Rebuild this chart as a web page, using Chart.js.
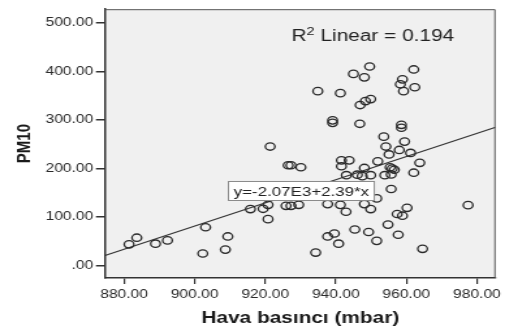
<!DOCTYPE html>
<html>
<head>
<meta charset="utf-8">
<script src="https://cdn.jsdelivr.net/npm/chart.js@4.4.0/dist/chart.umd.min.js"></script>
<style>
  html, body { margin: 0; padding: 0; background: #fff; }
</style>
</head>
<body>
<!-- drawn narrow, shown wide: the whole plot is stretched sideways -->
<canvas id="chart" width="388" height="329" style="display:block;width:505px;height:329px"></canvas>
<script>
// Air pressure (mbar) against PM10
const pressure = [
    881.4, 883.6, 888.9, 892.3, 902.3, 903.1, 908.7, 909.4, 915.8, 919.4,
    920.8, 920.8, 921.4, 925.9, 927.3, 929.5, 926.5, 927.3, 930.1, 934.3,
    934.9, 937.7, 937.7, 939.6, 940.8, 939.1, 939.1, 941.3, 941.3, 941.6,
    943.8, 941.6, 943.0, 942.9, 945.0, 945.4, 946.1, 947.5, 946.8, 946.9,
    948.1, 948.1, 948.1, 948.4, 949.6, 949.9, 949.9, 949.9, 949.3, 951.6,
    951.6, 951.9, 953.6, 953.9, 954.2, 954.8, 955.1, 955.4, 955.7, 955.7,
    956.0, 956.6, 957.4, 957.7, 958.0, 958.3, 958.6, 958.6, 958.9, 958.9,
    959.2, 959.5, 960.2, 961.2, 962.1, 962.1, 962.4, 963.8, 964.6, 977.5
];
const pm10 = [
    43.4, 57.1, 44.8, 51.6, 24.5, 78.7, 32.6, 59.7, 116.2, 116.8,
    124.9, 95.4, 245.2, 122.9, 122.9, 125.0, 206.6, 206.6, 202.5, 26.5,
    359.4, 126.4, 59.7, 65.8, 44.8, 299.2, 294.1, 355.3, 124.9, 216.7,
    216.7, 204.5, 186.1, 110.7, 395.0, 74.0, 187.1, 184.1, 292.1, 330.8,
    387.9, 201.0, 126.4, 338.9, 410.3, 343.0, 186.1, 116.2, 68.9, 138.2,
    50.6, 214.6, 265.6, 186.1, 245.2, 84.2, 228.9, 202.4, 187.5, 157.6,
    199.8, 197.3, 106.0, 63.2, 238.1, 373.6, 290.0, 283.9, 383.8, 102.5,
    359.4, 255.4, 118.8, 232.0, 191.2, 404.2, 367.5, 211.6, 34.2, 124.3
];

const xTicks = [880, 900, 920, 940, 960, 980];
const xTickLabels = ['880.00', '900.00', '920.00', '940.00', '960.00', '980.00'];
const yTicks = [0, 100, 200, 300, 400, 500];
const yTickLabels = ['.00', '100.00', '200.00', '300.00', '400.00', '500.00'];

// linear fit as printed on the chart
const fitIntercept = -2070;
const fitSlope = 2.39;
const fitLabel = 'y=-2.07E3+2.39*x';
const rSquared = '0.194';

const xTitle = 'Hava basıncı (mbar)';
const yTitle = 'PM10';

const xMin = 874.6, xMax = 985.3;
const yMin = -26, yMax = 528.5;

const FONT = "'Liberation Sans', Arial, sans-serif";

function fit(x) {
    return fitIntercept + fitSlope * x;
}

const decorPlugin = {
    id: 'decor',
    beforeDraw(chart) {
        const { ctx, chartArea: a } = chart;
        ctx.save();
        ctx.fillStyle = '#ffffff';
        ctx.fillRect(0, 0, chart.width, chart.height);
        ctx.fillStyle = '#f0f0f0';
        ctx.fillRect(a.left, a.top, a.right - a.left, a.bottom - a.top);
        ctx.restore();
    },
    afterDraw(chart) {
        const { ctx, chartArea: a, scales } = chart;
        ctx.save();

        // frame on top and right
        ctx.strokeStyle = '#555';
        ctx.lineWidth = 1;
        ctx.beginPath();
        ctx.moveTo(a.left, a.top + 0.5);
        ctx.lineTo(a.right - 0.5, a.top + 0.5);
        ctx.lineTo(a.right - 0.5, a.bottom);
        ctx.stroke();

        // equation box
        const bx = scales.x.getPixelForValue(909.4);
        const by = scales.y.getPixelForValue(153.5);
        ctx.font = '13px ' + FONT;
        const tw = ctx.measureText(fitLabel).width;
        const bw = tw + 9, bh = 20;
        ctx.fillStyle = '#ffffff';
        ctx.fillRect(bx, by - bh / 2, bw, bh);
        ctx.strokeStyle = '#8a8a8a';
        ctx.lineWidth = 1;
        ctx.strokeRect(bx + 0.5, by - bh / 2 + 0.5, bw - 1, bh - 1);
        ctx.fillStyle = '#222';
        ctx.textBaseline = 'middle';
        ctx.textAlign = 'left';
        ctx.fillText(fitLabel, bx + 4.5, by + 1);

        // R squared note
        ctx.textBaseline = 'alphabetic';
        const big = '16px ' + FONT, small = '11px ' + FONT;
        const rest = ' Linear = ' + rSquared;
        ctx.font = big;
        const wR = ctx.measureText('R').width;
        const wRest = ctx.measureText(rest).width;
        ctx.font = small;
        const w2 = ctx.measureText('2').width;
        let x = 286.5 - (wR + w2 + wRest) / 2;
        const base = 41;
        ctx.fillStyle = '#222';
        ctx.font = big;
        ctx.fillText('R', x, base);
        x += wR;
        ctx.font = small;
        ctx.fillText('2', x, base - 6);
        x += w2;
        ctx.font = big;
        ctx.fillText(rest, x, base);

        // axis titles
        ctx.fillStyle = '#1a1a1a';
        ctx.font = 'bold 16px ' + FONT;
        ctx.textAlign = 'center';
        ctx.fillText(xTitle, (a.left + a.right) / 2, 323);

        ctx.font = 'bold 15px ' + FONT;
        ctx.translate(18.5, (a.top + a.bottom) / 2);
        ctx.rotate(-Math.PI / 2);
        ctx.textBaseline = 'middle';
        ctx.fillText(yTitle, 0, 0);

        ctx.restore();
    }
};

const tickFont = { family: FONT, size: 12 };

const ctx = document.getElementById('chart').getContext('2d');
const chart = new Chart(ctx, {
    type: 'scatter',
    data: {
        datasets: [
            {
                data: pressure.map((p, i) => ({ x: p, y: pm10[i] })),
                pointStyle: 'circle',
                pointRadius: 3.7,
                pointHoverRadius: 3.7,
                pointBorderWidth: 1.3,
                borderColor: '#2a2a2a',
                backgroundColor: 'rgba(0,0,0,0)'
            },
            {
                type: 'line',
                data: [{ x: xMin, y: fit(xMin) }, { x: xMax, y: fit(xMax) }],
                borderColor: '#333',
                borderWidth: 1.2,
                pointRadius: 0,
                fill: false
            }
        ]
    },
    options: {
        responsive: false,
        animation: false,
        devicePixelRatio: 1,
        layout: { padding: { top: 6, right: 3.8, left: 0, bottom: 0 } },
        plugins: {
            legend: { display: false },
            tooltip: { enabled: false }
        },
        scales: {
            x: {
                type: 'linear',
                min: xMin,
                max: xMax,
                afterBuildTicks: s => { s.ticks = xTicks.map(v => ({ value: v })); },
                afterFit: s => { s.height = 51; },
                ticks: {
                    callback: v => xTickLabels[xTicks.indexOf(v)],
                    color: '#2a2a2a',
                    font: tickFont,
                    padding: 3,
                    maxRotation: 0,
                    autoSkip: false
                },
                grid: { drawOnChartArea: false, drawTicks: true, tickLength: 6, color: '#333', lineWidth: 1.2 },
                border: { color: '#333', width: 1.5 }
            },
            y: {
                type: 'linear',
                min: yMin,
                max: yMax,
                afterBuildTicks: s => { s.ticks = yTicks.map(v => ({ value: v })); },
                afterFit: s => { s.width = 80.7; },
                ticks: {
                    callback: v => yTickLabels[yTicks.indexOf(v)],
                    color: '#2a2a2a',
                    font: tickFont,
                    padding: 2,
                    autoSkip: false
                },
                grid: { drawOnChartArea: false, drawTicks: true, tickLength: 7, color: '#333', lineWidth: 1.5 },
                border: { color: '#333', width: 1.5 }
            }
        }
    },
    plugins: [decorPlugin]
});
</script>
</body>
</html>
